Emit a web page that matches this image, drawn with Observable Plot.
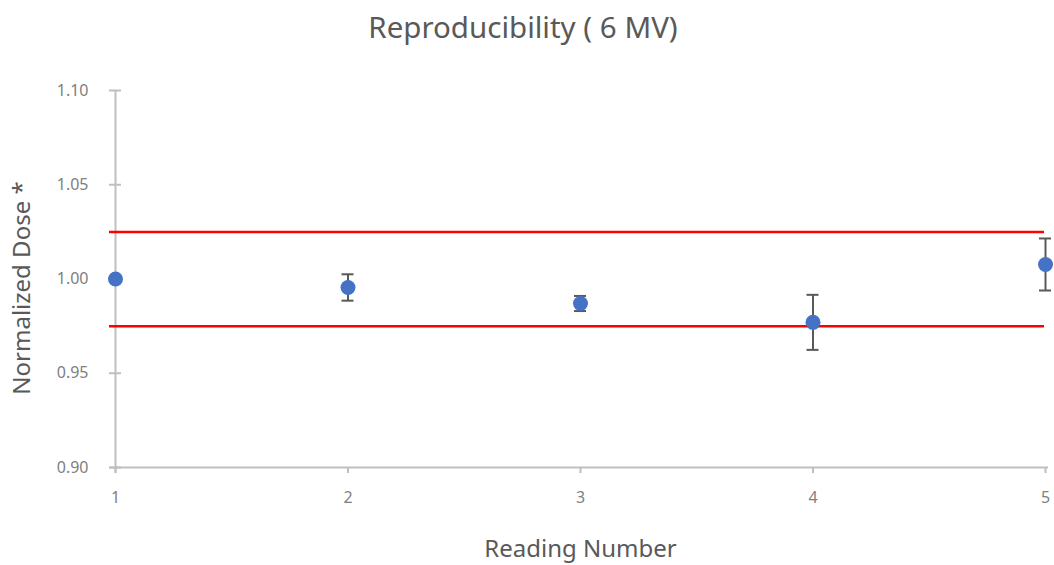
<!DOCTYPE html>
<html>
<head>
<meta charset="utf-8">
<script src="https://cdn.jsdelivr.net/npm/d3@7"></script>
<script src="https://cdn.jsdelivr.net/npm/@observablehq/plot@0.6"></script>
<style>
  html, body { margin: 0; padding: 0; background: #fff; }
  #title { height: 56px; line-height: 54px; text-align: center; font-family: "Noto Sans", sans-serif; font-size: 29.5px; color: #595959; padding-right: 8px; }
</style>
</head>
<body>
<div id="title">Reproducibility ( 6 MV)</div>
<div id="chart"></div>
<script>
const readings = [1, 2, 3, 4, 5];
const doses = [1.000, 0.9955, 0.987, 0.977, 1.0077];
const errors = [0, 0.007, 0.004, 0.0146, 0.0138];
const limits = [0.975, 1.025];
const yTicks = [0.90, 0.95, 1.00, 1.05, 1.10];
const xTicks = [1, 2, 3, 4, 5];

const data = readings.map((r, i) => ({reading: r, dose: doses[i], lo: doses[i] - errors[i], hi: doses[i] + errors[i]}));
const bars = data.filter(d => d.hi > d.lo);
const caps = bars.flatMap(d => [{reading: d.reading, y: d.lo}, {reading: d.reading, y: d.hi}]);

const axisColor = "#bfbfbf";
const textColor = "#808080";
const font = "'Noto Sans', sans-serif";

const chart = Plot.plot({
  width: 1054,
  height: 509,
  marginLeft: 115,
  marginRight: 9,
  marginTop: 34,
  marginBottom: 98,
  style: {fontFamily: font, background: "#fff"},
  x: {domain: [1, 5]},
  y: {domain: [0.90, 1.10]},
  marks: [
    // axis lines
    Plot.ruleY([0.90], {stroke: axisColor, strokeWidth: 2, insetLeft: -6, insetRight: -3}),
    Plot.ruleX([1], {stroke: axisColor, strokeWidth: 2, insetBottom: -6}),
    // y ticks crossing axis
    Plot.ruleY(yTicks, {y: d => d, x1: () => 1, x2: () => 1, insetLeft: -6, insetRight: -6, stroke: axisColor, strokeWidth: 2}),
    // x ticks
    Plot.axisX({ticks: xTicks, tickSize: 6, tickPadding: 18, stroke: axisColor, strokeWidth: 2, fill: textColor, fontSize: 16, label: null, tickFormat: d => String(d)}),
    Plot.axisY({ticks: yTicks, tickSize: 0, tickPadding: 27, fill: textColor, fontSize: 16, label: null, tickFormat: d3.format(".2f")}),
    // limit lines
    Plot.ruleY(limits, {y: d => d, stroke: "#ff0000", strokeWidth: 2.5, insetLeft: -6, insetRight: 1}),
    // error bars
    Plot.ruleX(bars, {x: "reading", y1: "lo", y2: "hi", stroke: "#595959", strokeWidth: 2}),
    Plot.ruleY(caps, {y: "y", x1: "reading", x2: "reading", insetLeft: -6, insetRight: -6, stroke: "#595959", strokeWidth: 2}),
    // points
    Plot.dot(data, {x: "reading", y: "dose", r: 7.5, fill: "#4472c4", stroke: "none"}),
    // axis titles
    Plot.text(["Reading Number"], {text: d => d, frameAnchor: "bottom", lineAnchor: "middle", dy: 82, fontSize: 24, fill: "#595959"}),
    Plot.text(["Normalized Dose *"], {text: d => d, frameAnchor: "left", textAnchor: "middle", lineAnchor: "middle", dx: -93, dy: 9, rotate: -90, fontSize: 24, fill: "#595959"})
  ]
});
document.getElementById("chart").appendChild(chart);
</script>
</body>
</html>
